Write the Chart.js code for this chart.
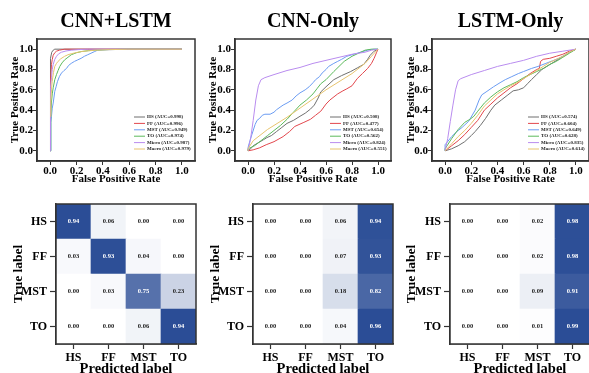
<!DOCTYPE html>
<html><head><meta charset="utf-8">
<script src="https://cdn.jsdelivr.net/npm/chart.js@4.4.1/dist/chart.umd.min.js"></script>
<style>
html,body{margin:0;padding:0;background:#fff;width:589px;height:373px;overflow:hidden;position:relative}
canvas{position:absolute;display:block}
</style></head><body>
<canvas id="roc1"></canvas><canvas id="roc2"></canvas><canvas id="roc3"></canvas>
<canvas id="cm1"></canvas><canvas id="cm2"></canvas><canvas id="cm3"></canvas>
<script>
// ---------------- DATA ----------------
const modelTitles = ['CNN+LSTM', 'CNN-Only', 'LSTM-Only'];
const classNames = ['HS', 'FF', 'MST', 'TO'];
const rocSeriesNames = ['HS', 'FF', 'MST', 'TO', 'Micro', 'Macro'];
const rocTickValues = [0, 0.2, 0.4, 0.6, 0.8, 1.0];

const aucCnnLstm = [0.998, 0.996, 0.949, 0.974, 0.987, 0.979];
const aucCnnOnly = [0.508, 0.477, 0.654, 0.562, 0.824, 0.551];
const aucLstmOnly = [0.574, 0.604, 0.649, 0.628, 0.835, 0.614];

// ROC points [FPR, TPR]
const rocCnnLstmHS = [[0,0],[0,0.82],[0.005,0.91],[0.012,0.97],[0.023,0.99],[0.035,1],[1,1]];
const rocCnnLstmFF = [[0,0],[0,0.55],[0.005,0.68],[0.01,0.85],[0.016,0.9],[0.023,0.94],[0.035,0.965],[0.048,0.98],[0.07,0.99],[0.11,1],[1,1]];
const rocCnnLstmMST = [[0,0],[0.005,0.28],[0.01,0.34],[0.016,0.42],[0.023,0.47],[0.035,0.585],[0.045,0.63],[0.055,0.68],[0.07,0.73],[0.086,0.765],[0.105,0.79],[0.124,0.81],[0.14,0.84],[0.16,0.86],[0.185,0.88],[0.21,0.895],[0.235,0.91],[0.26,0.93],[0.285,0.945],[0.31,0.96],[0.335,0.975],[0.36,0.99],[0.45,0.995],[0.59,1],[1,1]];
const rocCnnLstmTO = [[0,0],[0.005,0.35],[0.01,0.48],[0.016,0.56],[0.023,0.62],[0.035,0.7],[0.048,0.75],[0.06,0.79],[0.073,0.83],[0.09,0.865],[0.11,0.895],[0.135,0.92],[0.16,0.945],[0.2,0.965],[0.24,0.977],[0.29,0.985],[0.34,0.99],[0.45,0.997],[0.6,1],[1,1]];
const rocCnnLstmMicro = [[0,0],[0,0.45],[0.005,0.62],[0.01,0.72],[0.016,0.8],[0.023,0.85],[0.035,0.9],[0.048,0.93],[0.065,0.955],[0.086,0.97],[0.12,0.982],[0.16,0.99],[0.22,0.996],[0.29,1],[1,1]];
const rocCnnLstmMacro = [[0,0.34],[0.005,0.5],[0.01,0.6],[0.015,0.68],[0.025,0.77],[0.035,0.83],[0.048,0.86],[0.06,0.88],[0.08,0.905],[0.11,0.93],[0.135,0.945],[0.16,0.955],[0.2,0.967],[0.24,0.977],[0.29,0.984],[0.34,0.99],[0.45,0.995],[0.59,1],[1,1]];

const rocCnnOnlyHS = [[0,0],[0.02,0.02],[0.04,0.05],[0.08,0.08],[0.12,0.11],[0.145,0.13],[0.18,0.15],[0.22,0.19],[0.26,0.23],[0.3,0.27],[0.35,0.3],[0.4,0.34],[0.44,0.37],[0.48,0.41],[0.51,0.45],[0.54,0.52],[0.56,0.58],[0.6,0.63],[0.66,0.7],[0.72,0.74],[0.79,0.78],[0.84,0.815],[0.89,0.85],[0.92,0.9],[0.94,0.94],[0.97,0.98],[1,1]];
const rocCnnOnlyFF = [[0,0],[0.04,0.01],[0.09,0.03],[0.14,0.06],[0.2,0.09],[0.27,0.14],[0.32,0.19],[0.36,0.24],[0.43,0.28],[0.48,0.31],[0.52,0.35],[0.56,0.39],[0.6,0.46],[0.63,0.5],[0.69,0.56],[0.73,0.59],[0.76,0.61],[0.8,0.64],[0.84,0.71],[0.88,0.76],[0.92,0.81],[0.95,0.86],[0.97,0.91],[0.99,0.97],[1,1]];
const rocCnnOnlyMST = [[0,0],[0,0.03],[0.015,0.1],[0.03,0.16],[0.055,0.26],[0.07,0.3],[0.09,0.32],[0.11,0.35],[0.13,0.36],[0.17,0.36],[0.2,0.38],[0.22,0.405],[0.27,0.45],[0.3,0.47],[0.34,0.5],[0.37,0.54],[0.4,0.57],[0.44,0.6],[0.47,0.63],[0.5,0.67],[0.52,0.7],[0.55,0.73],[0.57,0.765],[0.6,0.8],[0.62,0.83],[0.66,0.86],[0.69,0.88],[0.72,0.9],[0.76,0.93],[0.8,0.945],[0.84,0.96],[0.88,0.975],[0.92,0.99],[0.97,1],[1,1]];
const rocCnnOnlyTO = [[0,0],[0,0.02],[0.05,0.05],[0.1,0.1],[0.15,0.15],[0.2,0.2],[0.25,0.25],[0.3,0.31],[0.35,0.38],[0.4,0.45],[0.45,0.5],[0.5,0.56],[0.53,0.61],[0.56,0.66],[0.6,0.7],[0.66,0.78],[0.7,0.83],[0.74,0.88],[0.8,0.93],[0.85,0.96],[0.9,0.99],[0.95,1],[1,1]];
const rocCnnOnlyMicro = [[0,0],[0.02,0.12],[0.04,0.3],[0.06,0.5],[0.08,0.64],[0.1,0.7],[0.13,0.72],[0.2,0.75],[0.3,0.79],[0.4,0.82],[0.5,0.86],[0.6,0.89],[0.7,0.92],[0.8,0.95],[0.9,0.97],[0.95,0.99],[1,1]];
const rocCnnOnlyMacro = [[0,0],[0,0.02],[0.04,0.1],[0.1,0.16],[0.15,0.21],[0.2,0.25],[0.3,0.33],[0.4,0.42],[0.5,0.51],[0.6,0.6],[0.7,0.68],[0.8,0.76],[0.9,0.86],[0.95,0.93],[1,1]];

const rocLstmOnlyHS = [[0,0],[0.05,0.02],[0.1,0.05],[0.15,0.09],[0.2,0.15],[0.23,0.19],[0.27,0.25],[0.31,0.32],[0.35,0.4],[0.38,0.45],[0.43,0.5],[0.48,0.55],[0.52,0.59],[0.56,0.6],[0.6,0.62],[0.63,0.66],[0.66,0.7],[0.7,0.75],[0.74,0.8],[0.79,0.84],[0.84,0.88],[0.89,0.92],[0.94,0.96],[1,1]];
const rocLstmOnlyFF = [[0,0],[0.05,0.05],[0.1,0.1],[0.15,0.16],[0.2,0.23],[0.25,0.3],[0.3,0.4],[0.35,0.46],[0.4,0.52],[0.45,0.57],[0.5,0.62],[0.55,0.66],[0.6,0.71],[0.65,0.76],[0.7,0.8],[0.72,0.81],[0.73,0.88],[0.75,0.9],[0.8,0.91],[0.85,0.93],[0.9,0.95],[0.95,0.98],[1,1]];
const rocLstmOnlyMST = [[0,0],[0,0.06],[0.05,0.14],[0.09,0.19],[0.13,0.23],[0.18,0.29],[0.23,0.4],[0.26,0.5],[0.28,0.55],[0.32,0.585],[0.37,0.63],[0.42,0.67],[0.46,0.7],[0.51,0.73],[0.56,0.76],[0.6,0.78],[0.66,0.81],[0.71,0.83],[0.77,0.86],[0.82,0.885],[0.87,0.91],[0.94,0.96],[1,1]];
const rocLstmOnlyTO = [[0,0],[0,0.02],[0.05,0.12],[0.1,0.21],[0.15,0.28],[0.19,0.31],[0.22,0.34],[0.25,0.39],[0.3,0.47],[0.35,0.53],[0.4,0.58],[0.45,0.62],[0.5,0.65],[0.55,0.68],[0.6,0.72],[0.65,0.75],[0.7,0.78],[0.75,0.81],[0.8,0.85],[0.85,0.88],[0.9,0.92],[0.95,0.96],[1,1]];
const rocLstmOnlyMicro = [[0,0],[0.02,0.12],[0.04,0.29],[0.06,0.45],[0.08,0.6],[0.1,0.69],[0.12,0.71],[0.2,0.75],[0.3,0.79],[0.4,0.83],[0.5,0.86],[0.6,0.89],[0.7,0.93],[0.8,0.96],[0.9,0.98],[1,1]];
const rocLstmOnlyMacro = [[0,0],[0.05,0.07],[0.1,0.14],[0.15,0.2],[0.2,0.27],[0.25,0.35],[0.3,0.44],[0.35,0.5],[0.4,0.56],[0.45,0.6],[0.5,0.64],[0.55,0.67],[0.6,0.71],[0.65,0.75],[0.7,0.79],[0.75,0.83],[0.8,0.87],[0.85,0.9],[0.9,0.93],[0.95,0.97],[1,1]];

// confusion matrices (rows = true label, columns = predicted label)
const cmCnnLstm = [[0.94,0.06,0.00,0.00],[0.03,0.93,0.04,0.00],[0.00,0.03,0.75,0.23],[0.00,0.00,0.06,0.94]];
const cmCnnOnly = [[0.00,0.00,0.06,0.94],[0.00,0.00,0.07,0.93],[0.00,0.00,0.18,0.82],[0.00,0.00,0.04,0.96]];
const cmLstmOnly = [[0.00,0.00,0.02,0.98],[0.00,0.00,0.02,0.98],[0.00,0.00,0.09,0.91],[0.00,0.00,0.01,0.99]];

// ---------------- STYLE ----------------
const SERIF = "'Liberation Serif', 'Times New Roman', serif";
const rocColors = ['#6f6f6f', '#e2474d', '#6b9cf2', '#5cba5c', '#b98cef', '#e7c46e'];
const AXIS = '#333333';

const boxPlugin = {
  id: 'boxFrame',
  afterDraw(chart) {
    const a = chart.chartArea, ctx = chart.ctx;
    ctx.save();
    ctx.strokeStyle = AXIS; ctx.lineWidth = 1.5;
    ctx.strokeRect(a.left, a.top, a.right - a.left, a.bottom - a.top);
    ctx.restore();
  }
};

const insideLegendPlugin = {
  id: 'insideLegend',
  afterDraw(chart) {
    const a = chart.chartArea, ctx = chart.ctx;
    const x0 = a.right - 61, y0 = a.bottom - 44, rowH = 6.4;
    ctx.save();
    ctx.font = 'bold 5px ' + SERIF;
    ctx.textBaseline = 'middle';
    ctx.textAlign = 'left';
    chart.data.datasets.forEach((ds, i) => {
      const y = y0 + i * rowH;
      ctx.strokeStyle = ds.borderColor; ctx.lineWidth = 1;
      ctx.beginPath(); ctx.moveTo(x0, y); ctx.lineTo(x0 + 11, y); ctx.stroke();
      ctx.fillStyle = '#222';
      ctx.fillText(ds.label, x0 + 13, y);
    });
    ctx.restore();
  }
};

const cellTextPlugin = {
  id: 'cellText',
  afterDatasetsDraw(chart) {
    const ctx = chart.ctx;
    ctx.save();
    ctx.font = 'bold 6.5px ' + SERIF;
    ctx.textAlign = 'center'; ctx.textBaseline = 'middle';
    chart.data.datasets.forEach((ds, di) => {
      const meta = chart.getDatasetMeta(di);
      meta.data.forEach((bar, j) => {
        const v = ds.cellValues[j];
        ctx.fillStyle = (v / ds.maxValue) > 0.5 ? '#ffffff' : '#222222';
        ctx.fillText(v.toFixed(2), bar.x, (bar.y + bar.base) / 2);
      });
    });
    ctx.restore();
  }
};

function cmap(t) {
  const lo = [255, 255, 255], hi = [43, 77, 150];
  const c = lo.map((l, k) => Math.round(l + (hi[k] - l) * t));
  return `rgb(${c[0]},${c[1]},${c[2]})`;
}

function setupCanvas(id, g) {
  const cv = document.getElementById(id);
  cv.width = g.w; cv.height = g.h;
  cv.style.left = g.x + 'px'; cv.style.top = g.y + 'px';
  cv.style.width = g.w + 'px'; cv.style.height = g.h + 'px';
  return cv;
}

function makeRoc(id, g, title, series, aucs) {
  const cv = setupCanvas(id, g);
  const tickFont = { family: SERIF, size: 11, weight: 'bold' };
  const titleFont = { family: SERIF, size: 11, weight: 'bold' };
  new Chart(cv, {
    type: 'scatter',
    data: {
      datasets: series.map((pts, i) => ({
        label: `${rocSeriesNames[i]} (AUC=${aucs[i].toFixed(3)})`,
        data: pts.map(p => ({ x: p[0], y: p[1] })),
        order: -i,
        showLine: true, borderColor: rocColors[i], backgroundColor: rocColors[i],
        borderWidth: 1, pointRadius: 0, tension: 0, fill: false
      }))
    },
    options: {
      responsive: false, animation: false, devicePixelRatio: 1,
      layout: { padding: { left: 0, right: g.padRight, top: 0, bottom: 0 } },
      plugins: {
        legend: { display: false }, tooltip: { enabled: false },
        title: { display: true, fullSize: false, text: title, color: '#000',
          font: { family: SERIF, size: 20, weight: 'bold' }, padding: { top: 10, bottom: 5 } }
      },
      scales: {
        x: {
          type: 'linear', min: -0.1, max: 1.1,
          afterBuildTicks: s => { s.ticks = rocTickValues.map(v => ({ value: v })); },
          afterFit: s => { s.height = g.h - g.boxBottom; },
          ticks: { callback: v => Number(v).toFixed(1), font: tickFont, color: '#000', padding: 0, maxRotation: 0, autoSkip: false },
          grid: { display: true, drawOnChartArea: false, drawTicks: true, tickLength: 4, color: AXIS, tickColor: AXIS },
          border: { display: true, color: AXIS, width: 1.5 },
          title: { display: true, text: 'False Positive Rate', color: '#000', font: titleFont, padding: { top: 0, bottom: 0 } }
        },
        y: {
          type: 'linear', min: -0.1, max: 1.1,
          afterBuildTicks: s => { s.ticks = rocTickValues.map(v => ({ value: v })); },
          afterFit: s => { s.width = g.yAxisW; },
          ticks: { callback: v => Number(v).toFixed(1), font: tickFont, color: '#000', padding: 0, autoSkip: false },
          grid: { display: true, drawOnChartArea: false, drawTicks: true, tickLength: 4, color: AXIS, tickColor: AXIS },
          border: { display: true, color: AXIS, width: 1.5 },
          title: { display: true, text: 'True Positive Rate', color: '#000', font: titleFont, padding: { top: g.yTitlePad, bottom: 0 } }
        }
      }
    },
    plugins: [boxPlugin, insideLegendPlugin]
  });
}

function makeCm(id, g, cm) {
  const cv = setupCanvas(id, g);
  const maxValue = Math.max(...cm.flat());
  const rowsBottomUp = [3, 2, 1, 0];
  const tickFont = { family: SERIF, size: 12, weight: 'bold' };
  new Chart(cv, {
    type: 'bar',
    data: {
      labels: classNames,
      datasets: rowsBottomUp.map(r => ({
        label: classNames[r],
        data: classNames.map(() => 1),
        cellValues: cm[r], maxValue: maxValue,
        backgroundColor: cm[r].map(v => cmap(v / maxValue)),
        borderWidth: 0, barPercentage: 1, categoryPercentage: 1, stack: 'cm'
      }))
    },
    options: {
      responsive: false, animation: false, devicePixelRatio: 1,
      layout: { padding: { left: 0, right: g.padRight, top: g.padTop, bottom: 0 } },
      plugins: { legend: { display: false }, tooltip: { enabled: false } },
      scales: {
        x: {
          stacked: true, offset: true,
          afterFit: s => { s.height = g.h - g.boxBottom; },
          ticks: { font: tickFont, color: '#000', padding: 2, maxRotation: 0, autoSkip: false },
          grid: { display: true, offset: false, drawOnChartArea: false, drawTicks: true, tickLength: 5, color: AXIS, tickColor: AXIS, tickWidth: 1.2 },
          border: { display: true, color: AXIS, width: 1.5 },
          title: { display: true, text: 'Predicted label', color: '#000', font: { family: SERIF, size: 14.5, weight: 'bold' }, padding: { top: 0, bottom: 8.4 } }
        },
        y: {
          stacked: true, min: 0, max: 4,
          afterBuildTicks: s => { s.ticks = [0.5, 1.5, 2.5, 3.5].map(v => ({ value: v })); },
          afterFit: s => { s.width = g.yAxisW; },
          ticks: { callback: v => classNames[3 - Math.floor(v)], font: tickFont, color: '#000', padding: 3, autoSkip: false },
          grid: { display: true, drawOnChartArea: false, drawTicks: true, tickLength: 6, color: AXIS, tickColor: AXIS, tickWidth: 1.2 },
          border: { display: true, color: AXIS, width: 1.5 },
          title: { display: true, text: 'True label', color: '#000', font: { family: SERIF, size: 13.5, weight: 'bold' }, padding: { top: g.yTitlePad, bottom: 0 } }
        }
      }
    },
    plugins: [cellTextPlugin, boxPlugin]
  });
}

// ---------------- LAYOUT ----------------
makeRoc('roc1', { x: 0, y: 0, w: 238, h: 186, yAxisW: 37, padRight: 43, boxBottom: 161, yTitlePad: 8.4 }, modelTitles[0],
  [rocCnnLstmHS, rocCnnLstmFF, rocCnnLstmMST, rocCnnLstmTO, rocCnnLstmMicro, rocCnnLstmMacro], aucCnnLstm);
makeRoc('roc2', { x: 196, y: 0, w: 243, h: 186, yAxisW: 39, padRight: 48, boxBottom: 161, yTitlePad: 10.4 }, modelTitles[1],
  [rocCnnOnlyHS, rocCnnOnlyFF, rocCnnOnlyMST, rocCnnOnlyTO, rocCnnOnlyMicro, rocCnnOnlyMacro], aucCnnOnly);
makeRoc('roc3', { x: 392, y: 0, w: 238, h: 186, yAxisW: 40, padRight: 41, boxBottom: 161, yTitlePad: 12.4 }, modelTitles[2],
  [rocLstmOnlyHS, rocLstmOnlyFF, rocLstmOnlyMST, rocLstmOnlyTO, rocLstmOnlyMicro, rocLstmOnlyMacro], aucLstmOnly);

makeCm('cm1', { x: 0, y: 186, w: 200, h: 200, yAxisW: 56, padRight: 4, padTop: 18, boxBottom: 158, yTitlePad: 10.6 }, cmCnnLstm);
makeCm('cm2', { x: 196, y: 186, w: 200, h: 200, yAxisW: 57, padRight: 3, padTop: 18, boxBottom: 158, yTitlePad: 11.2 }, cmCnnOnly);
makeCm('cm3', { x: 392, y: 186, w: 200, h: 200, yAxisW: 58, padRight: 2, padTop: 18, boxBottom: 158, yTitlePad: 11.9 }, cmLstmOnly);
</script>
</body></html>
